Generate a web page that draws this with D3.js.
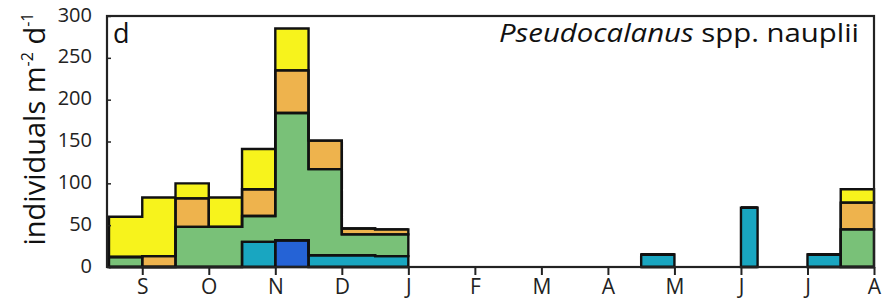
<!DOCTYPE html>
<html>
<head>
<meta charset="utf-8">
<script src="https://cdn.jsdelivr.net/npm/d3@7"></script>
<style>
  body { margin: 0; background: #fff; }
  svg { display: block; font-family: "Open Sans", sans-serif; }
</style>
</head>
<body>
<svg id="chart" width="884" height="305"></svg>
<script>
// month ticks, Sept -> Aug
const months = ["S", "O", "N", "D", "J", "F", "M", "A", "M", "J", "J", "A"];
// sampling bins, in months after 1 Sept
const binStart = [-0.5, 0, 0.5, 1, 1.5, 2, 2.5, 3, 3.5, 7.5, 9, 10, 10.5];
const binEnd   = [0, 0.5, 1, 1.5, 2, 2.5, 3, 3.5, 4, 8, 9.25, 10.5, 11];
// stacked groups, bottom to top
const blue   = [0, 0, 0, 0, 0, 32, 0, 0, 0, 0, 0, 0, 0];
const teal   = [0, 0, 0, 0, 30, 0, 14, 14, 13, 15, 71, 15, 0];
const green  = [12, 0, 48, 48, 31, 152, 103, 25, 26, 0, 0, 0, 45];
const orange = [0, 13, 34, 0, 32, 51, 34, 7, 6, 0, 0, 0, 32];
const yellow = [48, 70, 18, 35, 48, 50, 0, 0, 0, 0, 0, 0, 16];
const yTicks = [0, 50, 100, 150, 200, 250, 300];

const keys = ["blue", "teal", "green", "orange", "yellow"];
const colors = {blue: "#2563d6", teal: "#19a6c1", green: "#79c178", orange: "#eeb34d", yellow: "#f7f31c"};
const series = {blue, teal, green, orange, yellow};

const table = binStart.map((s, i) => {
  const row = {start: s, end: binEnd[i]};
  keys.forEach(k => row[k] = series[k][i]);
  return row;
});

const svg = d3.select("#chart");
const m = {left: 107, right: 874, top: 16, bottom: 267};

const x = d3.scaleLinear().domain([-0.53, 11]).range([m.left, m.right]);
const y = d3.scaleLinear().domain([0, 300]).range([m.bottom, m.top]);

const stacked = d3.stack().keys(keys)(table);

// each layer as a step polygon, broken where bins are not contiguous
let layerPts = layer => {
  const pts = [];
  layer.forEach((d, i) => {
    if (i > 0 && table[i - 1].end !== d.data.start) pts.push(null);
    pts.push({x: d.data.start, y0: d[0], y1: d[1]});
    pts.push({x: d.data.end, y0: d[0], y1: d[1]});
  });
  return pts;
};
const area = d3.area()
  .defined(d => d !== null)
  .x(d => x(d.x))
  .y0(d => y(d.y0))
  .y1(d => y(d.y1));

const g = svg.append("g");
g.selectAll("path.fill").data(stacked).join("path")
  .attr("class", "fill")
  .attr("d", l => area(layerPts(l)))
  .attr("fill", l => colors[l.key])
  .attr("stroke", "none");
g.selectAll("path.edge").data(stacked).join("path")
  .attr("class", "edge")
  .attr("d", l => area(layerPts(l)))
  .attr("fill", "none")
  .attr("stroke", "#111")
  .attr("stroke-width", 2.4)
  .attr("stroke-linejoin", "miter");

// axes
const yAxis = d3.axisLeft(y).tickValues(yTicks).tickSizeInner(-4).tickSizeOuter(0).tickPadding(15);
const ya = svg.append("g").attr("transform", `translate(${m.left},0)`).call(yAxis);
ya.select(".domain").remove();
ya.selectAll("line").attr("stroke", "#222").attr("stroke-width", 1.5);
ya.selectAll("text").attr("font-size", 20).attr("fill", "#222").attr("dy", "0.25em")
  .attr("font-family", "Open Sans");

const xAxis = d3.axisBottom(x).tickValues(d3.range(months.length))
  .tickFormat(i => months[i]).tickSize(8).tickPadding(4);
const xa = svg.append("g").attr("transform", `translate(0,${m.bottom})`).call(xAxis);
xa.select(".domain").remove();
xa.selectAll("line").attr("stroke", "#222").attr("stroke-width", 2);
xa.selectAll("text").attr("font-size", 21).attr("fill", "#222")
  .attr("font-family", "Open Sans");

// frame
svg.append("rect")
  .attr("x", m.left).attr("y", m.top)
  .attr("width", m.right - m.left).attr("height", m.bottom - m.top)
  .attr("fill", "none").attr("stroke", "#222").attr("stroke-width", 2.2);

// panel letter
svg.append("text").attr("x", 113).attr("y", 43)
  .attr("font-size", 27).attr("fill", "#111").text("d");

// title
const title = svg.append("text").attr("x", 859).attr("y", 42)
  .attr("text-anchor", "end").attr("font-size", 26).attr("fill", "#111")
  .attr("textLength", 360).attr("lengthAdjust", "spacingAndGlyphs");
title.append("tspan").attr("font-style", "italic").text("Pseudocalanus");
title.append("tspan").text(" spp. nauplii");

// y label
const yl = svg.append("text")
  .attr("transform", "translate(45,129) rotate(-90)")
  .attr("text-anchor", "middle").attr("font-size", 29).attr("fill", "#111");
yl.append("tspan").text("individuals m");
yl.append("tspan").attr("font-size", 16).attr("dy", -12).text("-2");
yl.append("tspan").attr("dy", 12).text(" d");
yl.append("tspan").attr("font-size", 16).attr("dy", -12).text("-1");
</script>
</body>
</html>
